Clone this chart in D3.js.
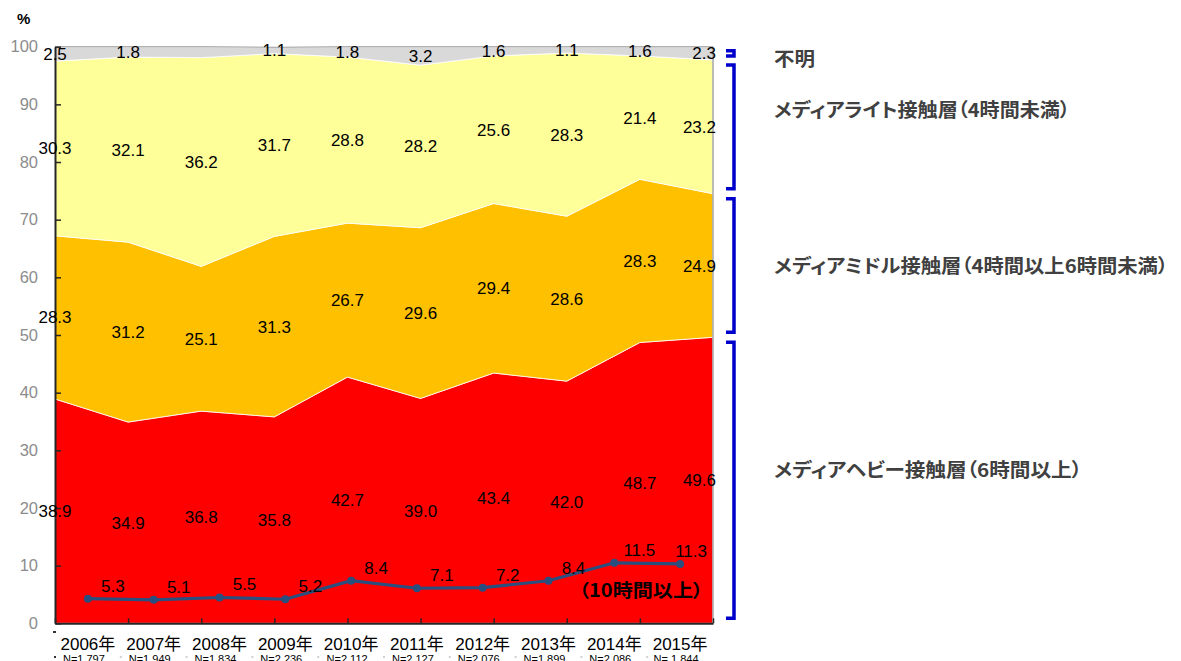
<!DOCTYPE html>
<html><head><meta charset="utf-8">
<script src="https://cdn.jsdelivr.net/npm/d3@7"></script>
<style>
html,body{margin:0;padding:0;background:#fff;}
svg{display:block;}
.jp{font-family:"Noto Sans CJK JP","Noto Sans CJK SC",sans-serif;font-feature-settings:"palt";}
</style></head>
<body>
<svg id="chart" width="1181" height="661"></svg>
<script>
// ---- data ----
const years = ["2006年","2007年","2008年","2009年","2010年","2011年","2012年","2013年","2014年","2015年"];
const sampleSizes = ["N=1,797","N=1,949","N=1,834","N=2,236","N=2,112","N=2,127","N=2,076","N=1,899","N=2,086","N= 1,844"];
const heavy   = [38.9,34.9,36.8,35.8,42.7,39.0,43.4,42.0,48.7,49.6];
const middle  = [28.3,31.2,25.1,31.3,26.7,29.6,29.4,28.6,28.3,24.9];
const light   = [30.3,32.1,36.2,31.7,28.8,28.2,25.6,28.3,21.4,23.2];
const unknown = [2.5,1.8,1.9,1.1,1.8,3.2,1.6,1.1,1.6,2.3];
const unknownLabelShown = [true,true,false,true,true,true,true,true,true,true];
const over10h = [5.3,5.1,5.5,5.2,8.4,7.1,7.2,8.4,11.5,11.3];
const yTicks = [0,10,20,30,40,50,60,70,80,90,100];
const seriesKeys = ["heavy","middle","light","unknown"];
const seriesNames = ["メディアヘビー接触層（6時間以上）","メディアミドル接触層（4時間以上6時間未満）","メディアライト接触層（4時間未満）","不明"];
const lineName = "（10時間以上）";

// ---- styles ----
const colors = {heavy:"#FF0000", middle:"#FFC000", light:"#FFFF99", unknown:"#D9D9D9"};
const nameWidths = [308, 394, 296, 41];
const nameDy = [-10, 0, -17, 6];
const latin = '"Liberation Sans", Arial, sans-serif';

(function(){
const rows = years.map((y,i)=>({year:y, heavy:heavy[i], middle:middle[i], light:light[i], unknown:unknown[i]}));

const svg = d3.select("#chart");
const pLeft = 55, pRight = 713, pTop = 46.7, pBottom = 623.3;

const xPoint = d3.scalePoint().domain(years).range([pLeft, pRight]);
const xBand = d3.scaleBand().domain(years).range([pLeft, pRight]);
const y = d3.scaleLinear().domain([0,100]).range([pBottom, pTop]);
const yLine = d3.scaleLinear().domain([0,100]).range([629.3, 51]); // secondary axis of the line series

const stacked = d3.stack().keys(seriesKeys)(rows);

const area = d3.area()
  .x(d=>xPoint(d.data.year))
  .y0(d=>y(d[0])).y1(d=>y(d[1]));

svg.append("g").selectAll("path").data(stacked).join("path")
  .attr("d", area)
  .attr("fill", d=>colors[d.key])
  .attr("stroke", "#fff").attr("stroke-width", 0.8);

const topLayer = stacked[3];
svg.append("path")
  .attr("d", d3.line().x(d=>xPoint(d.data.year)).y(d=>y(d[1]))(topLayer))
  .attr("fill","none").attr("stroke","#b0b0b0").attr("stroke-width",1.2);
svg.append("line")
  .attr("x1", pRight).attr("x2", pRight)
  .attr("y1", y(100)).attr("y2", y(0))
  .attr("stroke","#a6a6a6").attr("stroke-width",1.5);

// y axis
const yAxis = d3.axisLeft(y).tickValues(yTicks).tickSizeInner(-6).tickSizeOuter(0).tickPadding(17);
const gy = svg.append("g").attr("transform",`translate(${pLeft},0)`).call(yAxis);
gy.select(".domain").attr("stroke","#262626").attr("stroke-width",2);
gy.selectAll(".tick line").attr("stroke","#262626").attr("stroke-width",1.5);
gy.selectAll(".tick text").attr("fill","#8c8c8c").style("font-family",latin).style("font-size","16.5px");

// x axis
const xAxis = d3.axisBottom(xPoint).tickSizeInner(-5).tickSizeOuter(0).tickFormat("");
const gx = svg.append("g").attr("transform",`translate(0,${pBottom})`).call(xAxis);
gx.select(".domain").attr("stroke","#262626").attr("stroke-width",2);
gx.selectAll(".tick line").attr("stroke","#262626").attr("stroke-width",1.5);

// secondary category axis marks
const bandEdges = years.map(yr=>xBand(yr));
svg.append("g").selectAll("rect").data(bandEdges).join("rect")
  .attr("x", d=>d-1).attr("y", 656).attr("width", 2).attr("height", 2)
  .attr("fill", (d,i)=> i===0 ? "#333" : "#d0d0d0");
svg.append("rect").attr("x", pLeft-2).attr("y", 631).attr("width", 3).attr("height", 2).attr("fill","#333");

// year labels
svg.append("g").selectAll("text").data(years).join("text")
  .attr("x", d=>xBand(d)+xBand.bandwidth()/2)
  .attr("y", 650)
  .attr("text-anchor","middle")
  .style("font-family", '"Liberation Sans", Arial, "Noto Sans CJK JP", sans-serif')
  .style("font-size","17px").attr("fill","#000")
  .text(d=>d);
svg.append("g").selectAll("text").data(sampleSizes).join("text")
  .attr("x", (d,i)=>xBand(years[i])+xBand.bandwidth()/2-4)
  .attr("y", 663)
  .attr("text-anchor","middle")
  .style("font-family",latin).style("font-size","11px").attr("fill","#000")
  .text(d=>d);

svg.append("text").attr("x", 17).attr("y", 24)
  .style("font-family",latin).style("font-size","15px").style("font-weight","bold")
  .text("%");

// area data labels
const fmt = d3.format(".1f");
const lastIdx = years.length-1;
stacked.forEach(layer=>{
  svg.append("g").selectAll("text").data(layer.filter((d,i)=> layer.key!=="unknown" || unknownLabelShown[i])).join("text")
    .attr("x", d=> d.data.year===years[lastIdx] ? pRight+3 : xPoint(d.data.year))
    .attr("y", d=> y((d[0]+d[1])/2) + 6)
    .attr("text-anchor", d=> d.data.year===years[lastIdx] ? "end" : "middle")
    .style("font-family",latin).style("font-size","17px").attr("fill","#000")
    .text(d=>fmt(d[1]-d[0]));
});

// line series
const lineData = years.map((yr,i)=>({year:yr, v:over10h[i]}));
const cx = d=>xBand(d.year)+xBand.bandwidth()/2;
svg.append("path")
  .attr("d", d3.line().x(cx).y(d=>yLine(d.v))(lineData))
  .attr("fill","none").attr("stroke","#2A4F7F").attr("stroke-width",3.2);
svg.append("g").selectAll("circle").data(lineData).join("circle")
  .attr("cx", cx).attr("cy", d=>yLine(d.v)).attr("r", 4)
  .attr("fill","#2A4F7F");
svg.append("g").selectAll("text").data(lineData).join("text")
  .attr("x", (d,i)=> i===lastIdx ? pRight-6 : cx(d)+25)
  .attr("y", d=>yLine(d.v)-7)
  .attr("text-anchor", (d,i)=> i===lastIdx ? "end" : "middle")
  .style("font-family",latin).style("font-size","17px").attr("fill","#000")
  .text(d=>fmt(d.v));
svg.append("text")
  .attr("x", 703).attr("y", yLine(over10h[lastIdx]) + 33)
  .attr("text-anchor","end")
  .attr("class","jp")
  .style("font-size","18px").style("font-weight","bold").attr("fill","#000")
  .attr("textLength", 124).attr("lengthAdjust","spacingAndGlyphs")
  .text(lineName);

// brackets + names
const lastStack = stacked.map(layer=>({key:layer.key, lo:layer[lastIdx][0], hi: layer.key==="unknown" ? 100 : layer[lastIdx][1]}));
const bx0 = 726, bx1 = 734;
lastStack.forEach((s,i)=>{
  const gap = s.key==="unknown" ? 4 : 5;
  const t = y(s.hi)+gap, b = y(s.lo)-gap;
  svg.append("path")
    .attr("d", `M${bx0},${t}H${bx1}V${b}H${bx0}`)
    .attr("fill","none").attr("stroke","#0000CC").attr("stroke-width",3.5);
  svg.append("text")
    .attr("x", 774).attr("y", (t+b)/2 + 7 + nameDy[i])
    .attr("class","jp")
    .style("font-size","19px").style("font-weight","bold").attr("fill","#404040")
    .attr("textLength", nameWidths[i]).attr("lengthAdjust","spacingAndGlyphs")
    .text(seriesNames[i]);
});
})();
</script>
</body></html>
